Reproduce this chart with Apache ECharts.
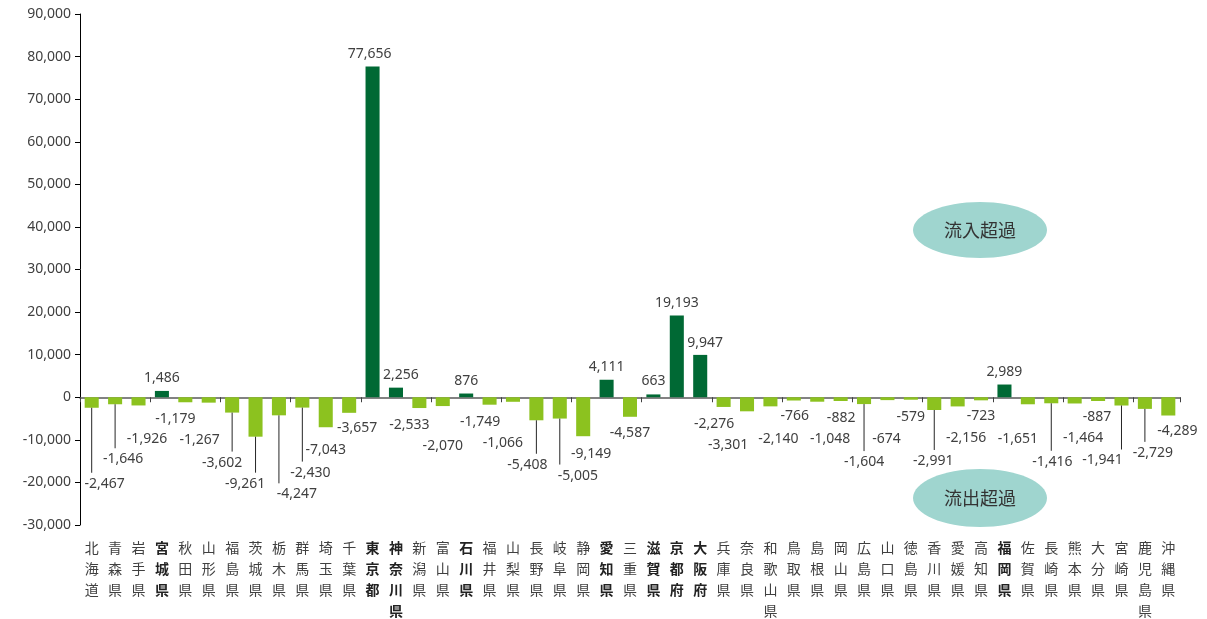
<!DOCTYPE html>
<html><head><meta charset="utf-8">
<script src="https://cdn.jsdelivr.net/npm/echarts@6/dist/echarts.min.js"></script>
<style>html,body{margin:0;padding:0;background:#fff}#c{width:1207px;height:619px}</style>
</head><body><div id="c"></div>
<script>
const prefectures = ['北海道','青森県','岩手県','宮城県','秋田県','山形県','福島県','茨城県','栃木県','群馬県','埼玉県','千葉県','東京都','神奈川県','新潟県','富山県','石川県','福井県','山梨県','長野県','岐阜県','静岡県','愛知県','三重県','滋賀県','京都府','大阪府','兵庫県','奈良県','和歌山県','鳥取県','島根県','岡山県','広島県','山口県','徳島県','香川県','愛媛県','高知県','福岡県','佐賀県','長崎県','熊本県','大分県','宮崎県','鹿児島県','沖縄県'];
const values = [-2467,-1646,-1926,1486,-1179,-1267,-3602,-9261,-4247,-2430,-7043,-3657,77656,2256,-2533,-2070,876,-1749,-1066,-5408,-5005,-9149,4111,-4587,663,19193,9947,-2276,-3301,-2140,-766,-1048,-882,-1604,-674,-579,-2991,-2156,-723,2989,-1651,-1416,-1464,-887,-1941,-2729,-4289];
const yTicks = {min: -30000, max: 90000, interval: 10000};
const inflowText = '流入超過';
const outflowText = '流出超過';
// label placement offsets (px) relative to the bar end
const labelDx = [13,8,8.5,0,-10,-9,-10,-10.5,18,8,0,8,-3,5,-10,0,0,-9.5,-10,-9,18,8,0,0,0,0,5,-9.5,-19,8,1,13,0.5,0,-1,0,-1,8.5,0,0,-10,1,8.5,-1,-19,8,9];
const labelDy = [76,55,34,-13,16.5,37,50,47,79,65,22.5,15,-13,-13,17,40,-13,17,41,44.5,57,17.5,-13,16,-13,-13,-12,17,34,33,16,37,17,58,39,17,51,32,16,-13,34.5,58.5,35,16,55,44,16];
const leaderLines = [0,1,6,7,8,9,19,20,33,36,41,44,45];

const fmt = v => v.toLocaleString('en-US');
const NUMFONT = '"Noto Sans", "Open Sans", sans-serif';
const CJK = '"Noto Sans CJK JP", sans-serif';
const TXT = '#404040';

const chart = echarts.init(document.getElementById('c'));
chart.setOption({
  animation: false,
  grid: {left: 80, right: 27, top: 14, bottom: 94, containLabel: false},
  xAxis: [{
    type: 'category', data: prefectures,
    axisLine: {onZero: true, lineStyle: {color: '#595959', width: 1.5}},
    axisTick: {show: true, alignWithLabel: false, length: 5, lineStyle: {color: '#404040'}},
    axisLabel: {show: false}
  }, {
    type: 'category', data: prefectures, position: 'bottom',
    axisLine: {show: false, onZero: false}, axisTick: {show: false},
    axisLabel: {
      interval: 0, margin: 12,
      formatter: (name, idx) => {
        const s = name.split('').join('\n');
        return values[idx] > 0 ? '{b|' + s + '}' : '{n|' + s + '}';
      },
      rich: {
        n: {fontFamily: CJK, fontSize: 14, lineHeight: 21, color: TXT},
        b: {fontFamily: CJK, fontSize: 14, lineHeight: 21, color: '#222', fontWeight: 'bold'}
      },
      verticalAlign: 'top'
    }
  }],
  yAxis: {
    type: 'value', min: yTicks.min, max: yTicks.max, interval: yTicks.interval,
    axisLine: {show: true, lineStyle: {color: '#000'}},
    axisTick: {show: true, length: 5, lineStyle: {color: '#000'}},
    splitLine: {show: false},
    axisLabel: {formatter: v => fmt(v), fontFamily: NUMFONT, fontSize: 14, color: TXT, margin: 9}
  },
  series: [{
    type: 'bar', data: values, xAxisIndex: 0, barCategoryGap: '40%',
    itemStyle: {color: p => p.value > 0 ? '#006934' : '#8cc21f'}
  }, {
    type: 'custom', xAxisIndex: 0, silent: true, z: 5,
    data: values.map((v, i) => [i, v, labelDx[i], labelDy[i], leaderLines.includes(i) ? 1 : 0]),
    encode: {x: 0, y: 1},
    renderItem: (params, api) => {
      const i = api.value(0), v = api.value(1);
      const p = api.coord([i, v]);
      const dx = api.value(2), dy = api.value(3);
      const children = [{
        type: 'text',
        style: {x: p[0] + dx, y: p[1] + dy, text: fmt(v), align: 'center', verticalAlign: 'middle',
          font: '14px ' + NUMFONT, fill: TXT}
      }];
      if (api.value(4)) {
        children.push({type: 'line', shape: {x1: p[0], y1: p[1], x2: p[0], y2: p[1] + dy - 11},
          style: {stroke: '#262626', lineWidth: 1}});
      }
      return {type: 'group', children};
    }
  }],
  graphic: [
    {type: 'ellipse', shape: {cx: 980, cy: 230, rx: 67, ry: 28}, style: {fill: '#9fd5cf'}},
    {type: 'text', x: 980, y: 230, style: {text: inflowText, align: 'center', verticalAlign: 'middle', font: '18px ' + CJK, fill: '#333'}},
    {type: 'ellipse', shape: {cx: 980, cy: 498, rx: 67, ry: 29}, style: {fill: '#9fd5cf'}},
    {type: 'text', x: 980, y: 498, style: {text: outflowText, align: 'center', verticalAlign: 'middle', font: '18px ' + CJK, fill: '#333'}}
  ]
});
</script></body></html>
